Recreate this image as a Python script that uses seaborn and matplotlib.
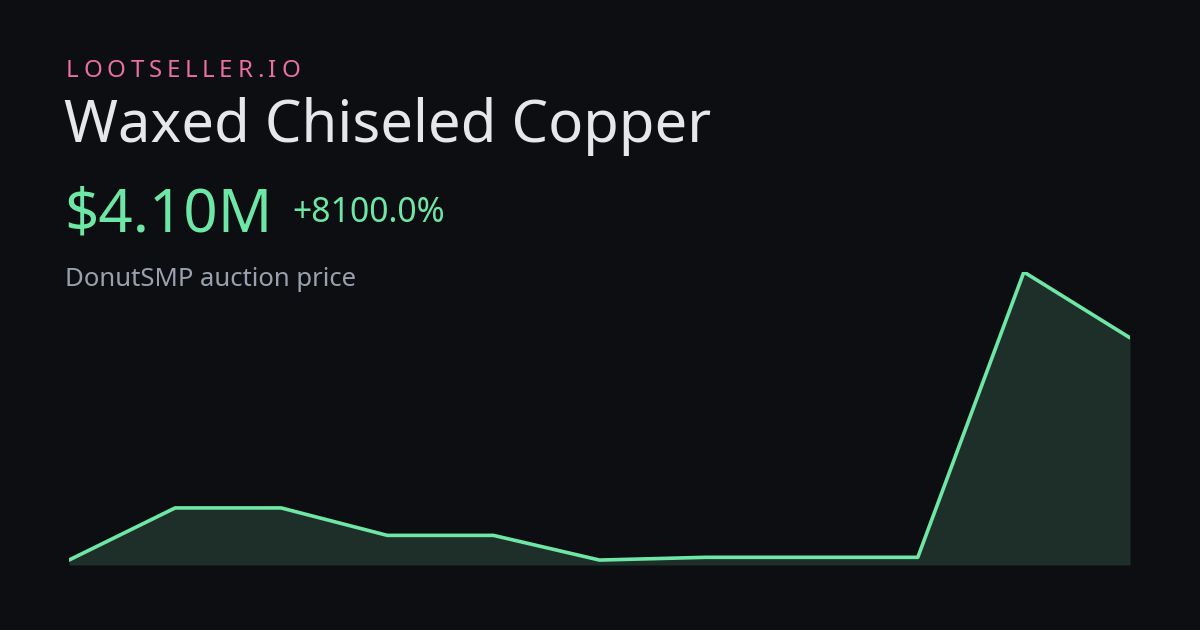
import matplotlib

matplotlib.use("Agg")
import matplotlib.pyplot as plt
import pandas as pd
import seaborn as sns

# price history in millions
days = list(range(11))
price_m = [0.05, 1.0, 1.0, 0.5, 0.5, 0.05, 0.1, 0.1, 0.1, 5.3, 4.1]

brand = "LOOTSELLER.IO"
item_name = "Waxed Chiseled Copper"
price_label = "$4.10M"
change_label = "+8100.0%"
caption = "DonutSMP auction price"

BG = "#0c0e12"
GREEN = "#6ee7a6"
FILL = "#1e2f2a"
PINK = "#ec6fa1"
WHITE = "#e6e7eb"
GREY = "#9aa0ad"

W, H = 1200, 630

sns.set_theme(style="dark")
plt.rcParams["font.family"] = ["Noto Sans", "DejaVu Sans"]

fig = plt.figure(figsize=(W / 100, H / 100), dpi=100, facecolor=BG)


def put(x_px, y_px, s, size, color):
    return fig.text(x_px / W, 1 - y_px / H, s, fontsize=size, color=color, va="baseline", ha="left")


def spaced(x_px, y_px, s, size, color, gap_px):
    # letter-spaced label, one glyph at a time
    renderer = fig.canvas.get_renderer()
    x = x_px
    for ch in s:
        t = put(x, y_px, ch, size, color)
        x += t.get_window_extent(renderer).width + gap_px


spaced(66, 77, brand, 17.3, PINK, 4.7)
put(64, 141.5, item_name, 41.8, WHITE)
put(64, 231.5, price_label, 43.3, GREEN)
put(292, 222, change_label, 24.3, GREEN)
put(65, 286, caption, 18.5, GREY)

# chart area
left, right, top, bottom = 69, 1130, 272, 565
ax = fig.add_axes([left / W, (H - bottom) / H, (right - left) / W, (bottom - top) / H])
ax.set_facecolor("none")

df = pd.DataFrame({"day": days, "price": price_m})
lo = min(price_m) - 0.09
ax.fill_between(df["day"], df["price"], lo, color=FILL, linewidth=0)
sns.lineplot(data=df, x="day", y="price", ax=ax, color=GREEN, linewidth=2.6)

ax.set_xlim(min(days), max(days))
ax.set_ylim(lo, max(price_m))
ax.axis("off")

fig.savefig("out.png", dpi=100, facecolor=BG)
